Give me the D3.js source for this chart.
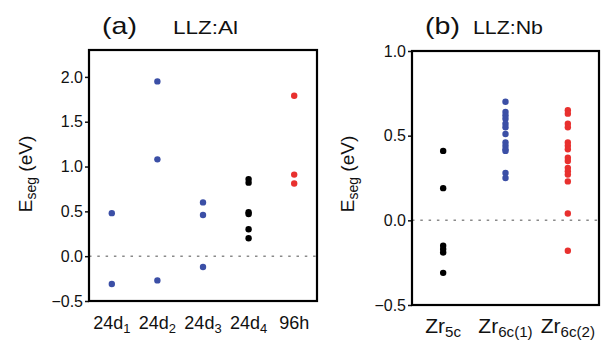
<!DOCTYPE html>
<html lang="en">
<head>
    <meta charset="UTF-8">
    <title>Eseg</title>
    <style>
        body { margin: 0; background: #fff; overflow: hidden; }
        text { font-family: "Liberation Sans", Arial, sans-serif; fill: #111; }
    </style>
</head>
<body>
<script src="https://cdn.jsdelivr.net/npm/d3@7"></script>
<script>
    // panel (a) LLZ:Al
    const catsA = ["24d_1", "24d_2", "24d_3", "24d_4", "96h"];
    const eA_24d1 = [0.48, -0.31];
    const eA_24d2 = [1.95, 1.08, -0.27];
    const eA_24d3 = [0.60, 0.46, -0.12];
    const eA_24d4 = [0.86, 0.82, 0.49, 0.47, 0.30, 0.20];
    const eA_96h = [1.79, 0.91, 0.81];
    const colorsA = ["#3b4fa6", "#3b4fa6", "#3b4fa6", "#000", "#e8302e"];
    const ticksA = [-0.5, 0.0, 0.5, 1.0, 1.5, 2.0];

    // panel (b) LLZ:Nb
    const catsB = ["Zr_5c", "Zr_6c(1)", "Zr_6c(2)"];
    const eB_5c = [0.41, 0.19, -0.15, -0.17, -0.19, -0.31];
    const eB_6c1 = [0.70, 0.64, 0.62, 0.60, 0.57, 0.55, 0.51, 0.46, 0.44, 0.42, 0.41, 0.28, 0.25];
    const eB_6c2 = [0.65, 0.63, 0.57, 0.55, 0.46, 0.44, 0.42, 0.37, 0.35, 0.31, 0.29, 0.27, 0.23, 0.04, -0.18];
    const colorsB = ["#000", "#3b4fa6", "#e8302e"];
    const ticksB = [-0.5, 0.0, 0.5, 1.0];

    const svg = d3.select("body").append("svg").attr("width", 606).attr("height", 340);

    function panel(o) {
        const g = svg.append("g");
        const x = d3.scalePoint().domain(o.cats).range([o.left, o.right]).padding(0.5);
        const y = d3.scaleLinear().domain(o.ydom).range([o.bottom, o.top]);

        // zero line
        g.append("line")
            .attr("x1", o.left).attr("x2", o.right)
            .attr("y1", y(0)).attr("y2", y(0))
            .attr("stroke", "#8a8a8a").attr("stroke-width", 1.5)
            .attr("stroke-dasharray", "2.5,5.8");

        // y axis ticks
        const ax = g.append("g").attr("transform", `translate(${o.left},0)`)
            .call(d3.axisLeft(y).tickValues(o.ticks).tickFormat(d3.format(".1f")).tickSizeOuter(0).tickSize(4).tickPadding(2));
        ax.select(".domain").remove();
        ax.selectAll(".tick line").attr("stroke", "#111").attr("stroke-width", 1.5);
        ax.selectAll(".tick text").attr("font-size", 16).attr("fill", "#111")
            .style("font-family", '"Liberation Sans", Arial, sans-serif');

        // points
        o.series.forEach((vals, i) => {
            g.selectAll(null).data(vals).enter().append("circle")
                .attr("cx", x(o.cats[i]))
                .attr("cy", d => y(d))
                .attr("r", 3.2)
                .attr("fill", o.colors[i]);
        });

        // frame
        g.append("rect")
            .attr("x", o.left).attr("y", o.top)
            .attr("width", o.right - o.left).attr("height", o.bottom - o.top)
            .attr("fill", "none").attr("stroke", "#000").attr("stroke-width", 2.2);

        // category labels with subscripts
        o.cats.forEach(c => {
            const parts = c.split("_");
            const t = g.append("text")
                .attr("x", x(c)).attr("y", o.labelY)
                .attr("text-anchor", "middle")
                .attr("font-size", o.labelSize);
            t.append("tspan").text(parts[0]);
            if (parts[1]) {
                t.append("tspan").attr("font-size", o.labelSize * 0.72).attr("dy", 4).text(parts[1]);
            }
        });

        // y label
        const yl = g.append("text")
            .attr("transform", `translate(${o.ylabX},${o.ylabY}) rotate(-90)`)
            .attr("text-anchor", "middle")
            .attr("font-size", 19);
        yl.append("tspan").text("E");
        yl.append("tspan").attr("font-size", 14).attr("dy", 4).text("seg");
        yl.append("tspan").attr("dy", -4).text(" (eV)");

        // titles
        svg.append("text").attr("x", o.tagX).attr("y", 34).attr("font-size", 24)
            .attr("textLength", 35).attr("lengthAdjust", "spacingAndGlyphs").text(o.tag);
        svg.append("text").attr("x", o.nameX).attr("y", 34).attr("font-size", 19)
            .attr("textLength", o.nameW).attr("lengthAdjust", "spacingAndGlyphs").text(o.name);
    }

    panel({
        cats: catsA, series: [eA_24d1, eA_24d2, eA_24d3, eA_24d4, eA_96h], colors: colorsA,
        ticks: ticksA, ydom: [-0.5, 2.3],
        left: 89, right: 317, top: 50, bottom: 301,
        labelY: 329, labelSize: 18,
        ylabX: 32, ylabY: 174,
        tag: "(a)", tagX: 102, name: "LLZ:Al", nameX: 173, nameW: 65
    });

    panel({
        cats: catsB, series: [eB_5c, eB_6c1, eB_6c2], colors: colorsB,
        ticks: ticksB, ydom: [-0.5, 1.0],
        left: 412, right: 599, top: 51, bottom: 305,
        labelY: 333, labelSize: 21,
        ylabX: 354, ylabY: 174,
        tag: "(b)", tagX: 425, name: "LLZ:Nb", nameX: 473, nameW: 70
    });
</script>
</body>
</html>
